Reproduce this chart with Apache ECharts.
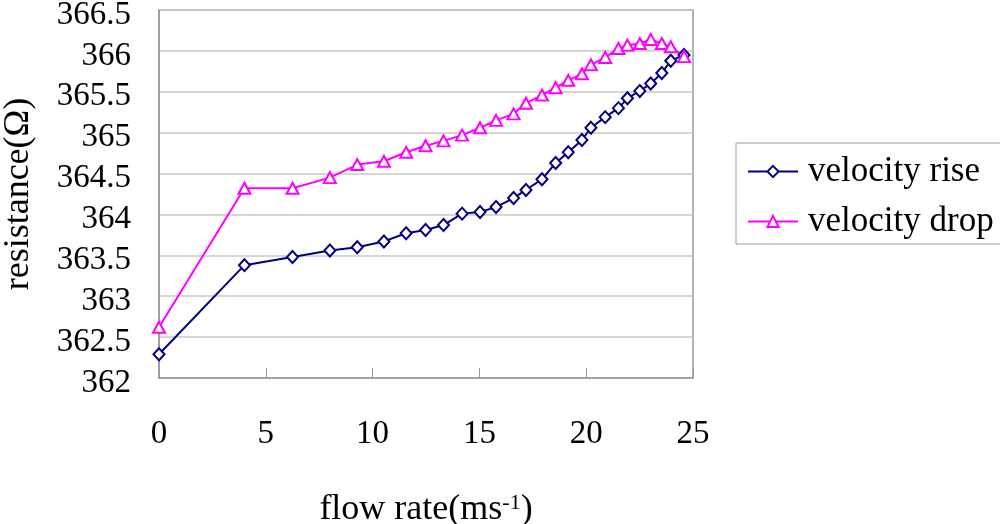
<!DOCTYPE html>
<html>
<head>
<meta charset="utf-8">
<script src="https://cdn.jsdelivr.net/npm/echarts@6/dist/echarts.min.js"></script>
<style>
  html, body { margin: 0; padding: 0; background: #fff; }
  #chart { width: 1000px; height: 524px; }
</style>
</head>
<body>
<div id="chart"></div>
<script>
// flow rate (m/s)
const flowRate = [0, 4, 6.25, 8, 9.28, 10.53, 11.57, 12.48, 13.32, 14.19, 15.03, 15.78, 16.6, 17.18,
    17.93, 18.57, 19.16, 19.8, 20.22, 20.89, 21.51, 21.93, 22.51, 23.02, 23.54, 23.96, 24.58];
const velocityRise = [362.29, 363.38, 363.48, 363.56, 363.6, 363.67, 363.77, 363.81, 363.87, 364.01, 364.03,
    364.09, 364.2, 364.3, 364.43, 364.63, 364.76, 364.91, 365.06, 365.19, 365.3, 365.42, 365.51, 365.6,
    365.73, 365.88, 365.95];
const velocityDrop = [362.62, 364.32, 364.32, 364.45, 364.61, 364.65, 364.76, 364.84, 364.9, 364.97, 365.06,
    365.15, 365.23, 365.36, 365.46, 365.55, 365.64, 365.72, 365.83, 365.92, 366.03, 366.07, 366.09, 366.14,
    366.09, 366.05, 365.93];
const seriesNames = ['velocity rise', 'velocity drop'];

const font = 'Liberation Serif, Times New Roman, serif';

function pairs(xs, ys) {
    return xs.map((x, i) => [x, ys[i]]);
}

const chart = echarts.init(document.getElementById('chart'), null, { renderer: 'canvas' });

chart.setOption({
    animation: false,
    backgroundColor: '#fff',
    grid: {
        left: 159, top: 10, right: 307, bottom: 146,
        outerBoundsMode: 'none',
        containLabel: false,
        show: true, borderColor: '#999', borderWidth: 1.5
    },
    legend: {
        orient: 'vertical',
        left: 736, top: 143,
        width: 262,
        padding: [11, 20, 5, 11],
        itemGap: 15,
        itemWidth: 50, itemHeight: 14,
        borderColor: '#999', borderWidth: 1,
        textStyle: { fontFamily: font, fontSize: 35, color: '#000', padding: [0, 0, 0, 5] },
        data: seriesNames
    },
    xAxis: {
        type: 'value',
        min: 0, max: 25, interval: 5,
        name: 'flow rate(ms{sup|-1})',
        nameLocation: 'middle',
        nameGap: 114,
        nameTextStyle: {
            fontFamily: font, fontSize: 36, color: '#000',
            rich: { sup: { fontFamily: font, fontSize: 22, verticalAlign: 'top', lineHeight: 20, padding: [0, 0, 18, 0] } }
        },
        axisLine: { lineStyle: { color: '#999', width: 1.5 } },
        axisTick: { inside: true, length: 10, lineStyle: { color: '#999' } },
        splitLine: { show: false },
        axisLabel: { fontFamily: font, fontSize: 33, color: '#000', margin: 40 }
    },
    yAxis: {
        type: 'value',
        min: 362, max: 366.5, interval: 0.5,
        name: 'resistance(Ω)',
        nameLocation: 'middle',
        nameRotate: 90,
        nameGap: 122,
        nameTextStyle: { fontFamily: font, fontSize: 36, color: '#000' },
        axisLine: { show: true, lineStyle: { color: '#999', width: 1.5 } },
        axisTick: { show: false },
        splitLine: { lineStyle: { color: '#c8c8c8', width: 1.5 } },
        axisLabel: {
            margin: 28,
            formatter: '{v|{value}}',
            rich: { v: { fontFamily: font, fontSize: 33, color: '#000', padding: [10, 0, 0, 0] } }
        }
    },
    series: [
        {
            name: seriesNames[0],
            type: 'line',
            data: pairs(flowRate, velocityRise),
            symbol: 'diamond',
            symbolSize: [11, 12],
            lineStyle: { color: '#000080', width: 2 },
            itemStyle: { color: '#fff', borderColor: '#000080', borderWidth: 2 }
        },
        {
            name: seriesNames[1],
            type: 'line',
            data: pairs(flowRate, velocityDrop),
            symbol: 'triangle',
            symbolSize: [12, 11],
            lineStyle: { color: '#ff00ff', width: 2 },
            itemStyle: { color: '#fff', borderColor: '#ff00ff', borderWidth: 2 }
        }
    ]
});
</script>
</body>
</html>
